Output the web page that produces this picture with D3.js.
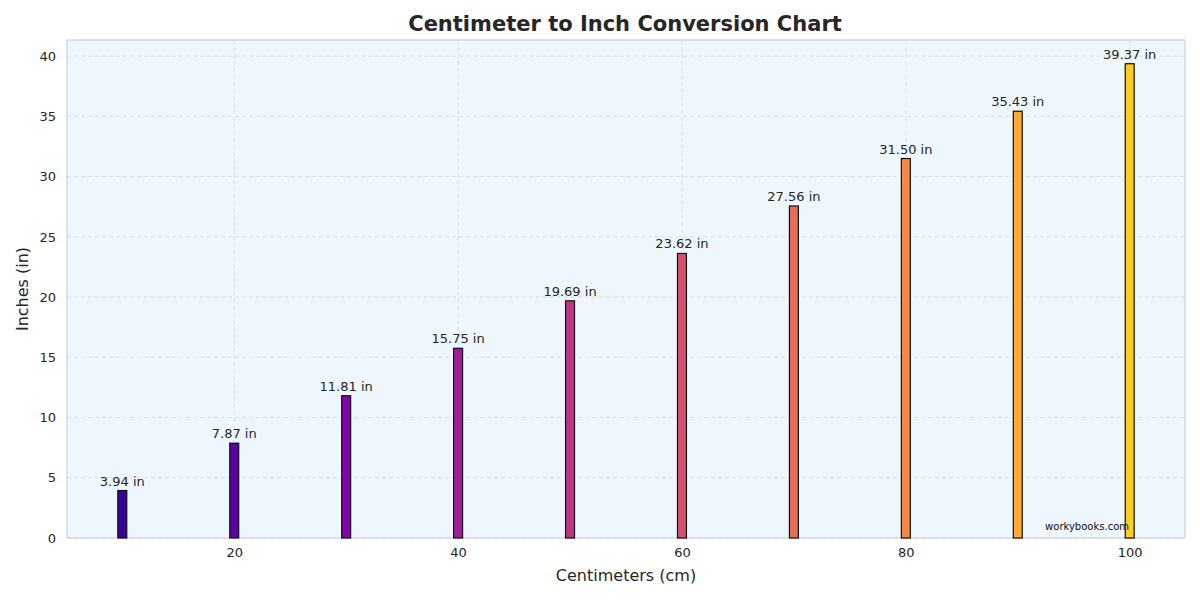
<!DOCTYPE html>
<html><head><meta charset="utf-8">
<script src="https://cdn.jsdelivr.net/npm/d3@7"></script>
<style>body{margin:0;background:#fff;font-family:"DejaVu Sans",sans-serif}</style>
</head><body><svg id="chart" width="1200" height="600"></svg>
<script>
// data
const centimeters = [10, 20, 30, 40, 50, 60, 70, 80, 90, 100];
const inches = [3.94, 7.87, 11.81, 15.75, 19.69, 23.62, 27.56, 31.50, 35.43, 39.37];
const xTicks = [20, 40, 60, 80, 100];
const yTicks = [0, 5, 10, 15, 20, 25, 30, 35, 40];

const svg = d3.select("svg#chart");
const bounds = {minX: 67, maxX: 1185, minY: 40, maxY: 538};

const x = d3.scaleLinear().domain([5.06, 104.94]).range([bounds.minX, bounds.maxX]);
const y = d3.scaleLinear().domain([0, 41.34]).range([bounds.maxY, bounds.minY]);
const color = i => d3.interpolatePlasma(0.08 + i * 0.82 / (centimeters.length - 1));

svg.append("rect")
	.attr("x", bounds.minX).attr("y", bounds.minY)
	.attr("width", bounds.maxX - bounds.minX).attr("height", bounds.maxY - bounds.minY)
	.attr("fill", "#eef6fe");

// grid
const grid = svg.append("g").attr("stroke", "#d3dbe6").attr("stroke-dasharray", "4,3").attr("stroke-width", 0.8);
grid.selectAll("line.gx").data(xTicks).join("line")
	.attr("x1", d => x(d)).attr("x2", d => x(d)).attr("y1", bounds.minY).attr("y2", bounds.maxY);
grid.selectAll("line.gy").data(yTicks).join("line")
	.attr("y1", d => y(d)).attr("y2", d => y(d)).attr("x1", bounds.minX).attr("x2", bounds.maxX);

svg.append("rect")
	.attr("x", bounds.minX).attr("y", bounds.minY)
	.attr("width", bounds.maxX - bounds.minX).attr("height", bounds.maxY - bounds.minY)
	.attr("fill", "none").attr("stroke", "#c5ccd6");

// bars
const bw = x(0.4) - x(0);
svg.append("g").selectAll("rect").data(centimeters).join("rect")
	.attr("x", d => x(d) - bw)
	.attr("width", 2 * bw)
	.attr("y", (d, i) => y(inches[i]))
	.attr("height", (d, i) => y(0) - y(inches[i]))
	.attr("fill", (d, i) => color(i))
	.attr("stroke", "#111").attr("stroke-width", 1.2);

svg.append("g").selectAll("text").data(centimeters).join("text")
	.attr("x", d => x(d))
	.attr("y", (d, i) => y(inches[i]) - 5)
	.attr("text-anchor", "middle").attr("font-size", 13).attr("fill", "#262626")
	.text((d, i) => inches[i].toFixed(2) + " in");

// axes
const axisX = svg.append("g").attr("transform", `translate(0 ${bounds.maxY})`)
	.call(d3.axisBottom(x).tickValues(xTicks).tickSize(0).tickPadding(10));
const axisY = svg.append("g").attr("transform", `translate(${bounds.minX} 0)`)
	.call(d3.axisLeft(y).tickValues(yTicks).tickSize(0).tickPadding(11));
[axisX, axisY].forEach(a => {
	a.select(".domain").remove();
	a.selectAll("text").attr("font-size", 13).attr("fill", "#262626").attr("font-family", "DejaVu Sans");
});

svg.append("text").attr("x", 626).attr("y", 581).attr("text-anchor", "middle")
	.attr("font-size", 16).attr("fill", "#262626").text("Centimeters (cm)");
svg.append("text").attr("transform", "translate(28 289) rotate(-90)").attr("text-anchor", "middle")
	.attr("font-size", 16).attr("fill", "#262626").text("Inches (in)");
svg.append("text").attr("x", 625).attr("y", 31).attr("text-anchor", "middle")
	.attr("font-size", 21).attr("font-weight", "bold").attr("fill", "#262626")
	.text("Centimeter to Inch Conversion Chart");
svg.append("text").attr("x", 1129).attr("y", 530).attr("text-anchor", "end")
	.attr("font-size", 10).attr("fill", "#111").text("workybooks.com");
</script></body></html>
